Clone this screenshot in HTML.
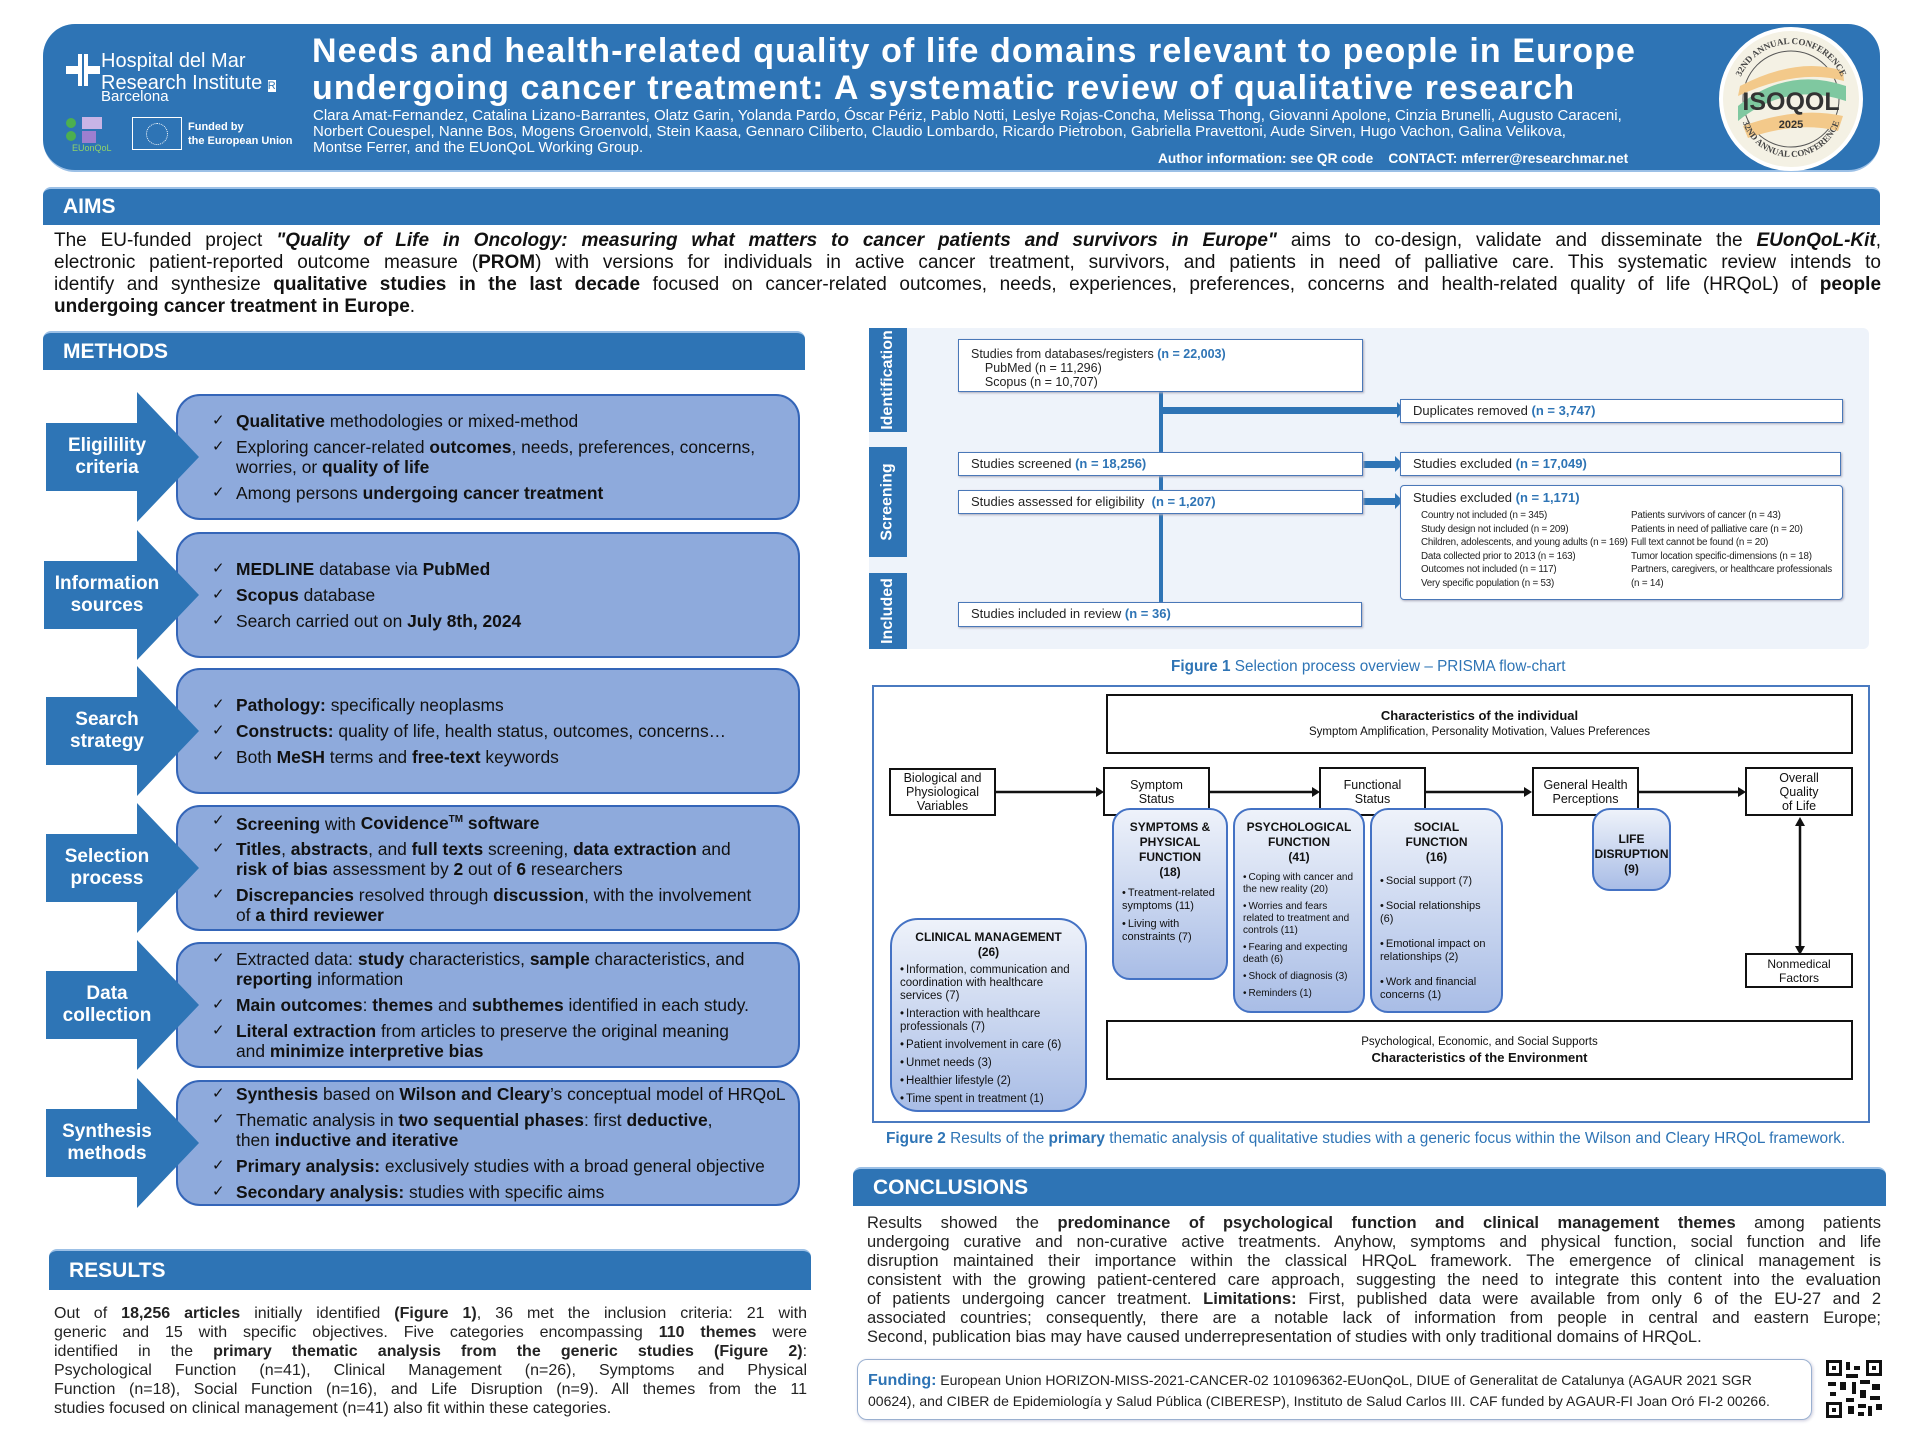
<!DOCTYPE html>
<html><head><meta charset="utf-8">
<style>
*{margin:0;padding:0;box-sizing:border-box}
body{width:1920px;height:1440px;background:#fff;position:relative;overflow:hidden;font-family:"Liberation Sans",Arial,sans-serif;color:#111}
.a{position:absolute}
.bar{position:absolute;background:#2e74b5;border-radius:8px 8px 0 0;color:#fff;font-weight:bold;font-size:21px;padding-left:20px;display:flex;align-items:center;border-top:2px solid #9cc0e6}
.jl{position:absolute;white-space:nowrap;text-align:justify;text-align-last:justify}
.ll{position:absolute;white-space:nowrap}
.row{position:absolute;left:0;width:820px}
.box{position:absolute;left:176px;width:624px;background:#8eaadc;border:2px solid #3465b8;border-radius:24px;display:flex;flex-direction:column;justify-content:center;padding-left:58px;font-size:17.4px;line-height:20px;color:#111}
.box div{position:relative;margin:3px 0;white-space:nowrap}
.box div:before{content:"✓";position:absolute;left:-24px;top:0;font-size:15px}
.lbl{position:absolute;left:40px;width:134px;color:#fff;font-weight:bold;font-size:19px;line-height:22px;text-align:center;display:flex;align-items:center;justify-content:center}
.pb{position:absolute;background:#fff;border:1.5px solid #4a78b8;font-size:13px;padding-left:12px;color:#222;box-shadow:1px 1px 2px #aab}
.n{color:#2e74b5;font-weight:bold}
.tab{position:absolute;left:869px;width:38px;background:#2e74b5;color:#fff;font-weight:bold;font-size:16px;display:flex;align-items:center;justify-content:center}
.tab span{transform:rotate(-90deg);white-space:nowrap;display:block}
.wb{position:absolute;background:#fff;border:2.5px solid #111;font-size:12.5px;text-align:center;display:flex;flex-direction:column;justify-content:center;line-height:14px;color:#111}
.rb{position:absolute;border:2px solid #4472c4;border-radius:18px;background:linear-gradient(#eef2fa,#a9bde6);font-size:11px;line-height:13px;color:#111}
.rb .t{text-align:center;font-weight:bold;font-size:12px;line-height:15px;margin-top:10px}
.rb ul{list-style:none;padding:2px 4px 0 8px}
.rb li{margin-top:5px}
.rb li:before{content:"•";margin-right:2px}
</style></head><body>

<!-- HEADER -->
<div class="a" style="left:43px;top:24px;width:1837px;height:148px;background:#2e74b5;border-radius:32px;border-bottom:2px solid #9cc0e6"></div>
<svg class="a" style="left:66px;top:52px" width="34" height="36"><path d="M14 2v14H2v4h12M20 2v14h12v4H20M20 34V20h10M14 34V20H4" stroke="#fff" stroke-width="4" fill="none"/></svg>
<div class="ll" style="left:101px;top:50px;color:#fff;font-size:20px;line-height:22px">Hospital del Mar<br>Research Institute <span style="font-size:11px;background:#fff;color:#2e74b5">R</span></div>
<div class="ll" style="left:101px;top:88px;color:#fff;font-size:15px">Barcelona</div>
<div class="a" style="left:66px;top:118px;width:10px;height:10px;border-radius:50%;background:#4caf50"></div>
<div class="a" style="left:66px;top:131px;width:10px;height:10px;border-radius:50%;background:#4caf50"></div>
<div class="a" style="left:82px;top:117px;width:20px;height:12px;background:#c8b4e6"></div>
<div class="a" style="left:82px;top:131px;width:14px;height:12px;background:#9d7fd0"></div>
<div class="ll" style="left:72px;top:143px;color:#8fd36a;font-size:9px">EUonQoL</div>
<div class="a" style="left:132px;top:117px;width:50px;height:33px;border:1px solid #fff"></div>
<div class="a" style="left:146px;top:123px;width:22px;height:22px;border:1.5px dotted #fff;border-radius:50%"></div>
<div class="ll" style="left:188px;top:120px;color:#fff;font-size:11px;line-height:14px;font-weight:bold">Funded by<br>the European Union</div>

<div class="ll" style="left:312px;top:33px;color:#fff;font-size:34px;letter-spacing:1.1px;font-weight:bold;line-height:37px">Needs and health-related quality of life domains relevant to people in Europe<br>undergoing cancer treatment: A systematic review of qualitative research</div>
<div class="ll" style="left:313px;top:108px;color:#fff;font-size:15px;line-height:16px">Clara Amat-Fernandez, Catalina Lizano-Barrantes, Olatz Garin, Yolanda Pardo, Óscar Périz, Pablo Notti, Leslye Rojas-Concha, Melissa Thong, Giovanni Apolone, Cinzia Brunelli, Augusto Caraceni,<br>Norbert Couespel, Nanne Bos, Mogens Groenvold, Stein Kaasa, Gennaro Ciliberto, Claudio Lombardo, Ricardo Pietrobon, Gabriella Pravettoni, Aude Sirven, Hugo Vachon, Galina Velikova,<br>Montse Ferrer, and the EUonQoL Working Group.</div>
<div class="ll" style="left:1158px;top:151px;color:#fff;font-size:13.7px;font-weight:bold">Author information: see QR code &nbsp;&nbsp;&nbsp;CONTACT: mferrer@researchmar.net</div>
<svg class="a" style="left:1718px;top:26px" width="146" height="146">
<defs><path id="arc" d="M18 73 A55 55 0 0 1 128 73"/><path id="arc2" d="M22 80 A51 51 0 0 0 124 80"/></defs>
<circle cx="73" cy="73" r="70" fill="#f4f1e4" stroke="#fff" stroke-width="4"/>
<circle cx="73" cy="73" r="48" fill="none" stroke="#555" stroke-width="1"/>
<path d="M20 80 Q70 40 128 60 L128 75 Q70 55 20 95Z" fill="#7fc8a0"/>
<path d="M22 60 Q80 30 125 45 L126 55 Q80 42 20 70Z" fill="#f3c98a"/>
<path d="M25 100 Q80 80 125 90 L120 105 Q80 95 30 112Z" fill="#f3c98a"/>
<text font-family="Liberation Serif" font-size="9" font-weight="bold" fill="#444"><textPath href="#arc" startOffset="50%" text-anchor="middle">32ND ANNUAL CONFERENCE</textPath></text>
<text font-family="Liberation Serif" font-size="9" font-weight="bold" fill="#444"><textPath href="#arc2" startOffset="50%" text-anchor="middle">32ND ANNUAL CONFERENCE</textPath></text>
<text x="73" y="84" text-anchor="middle" font-family="Liberation Sans" font-weight="bold" font-size="25" fill="#333">ISOQOL</text>
<text x="73" y="102" text-anchor="middle" font-family="Liberation Sans" font-weight="bold" font-size="11" fill="#333">2025</text>
</svg>

<!-- AIMS -->
<div class="bar" style="left:43px;top:187px;width:1837px;height:38px">AIMS</div>
<div style="font-size:19px">
<div class="jl" style="left:54px;top:230px;width:1827px">The EU-funded project <b><i>"Quality of Life in Oncology: measuring what matters to cancer patients and survivors in Europe"</i></b> aims to co-design, validate and disseminate the <b><i>EUonQoL-Kit</i></b>,</div>
<div class="jl" style="left:54px;top:252px;width:1827px">electronic patient-reported outcome measure (<b>PROM</b>) with versions for individuals in active cancer treatment, survivors, and patients in need of palliative care. This systematic review intends to</div>
<div class="jl" style="left:54px;top:274px;width:1827px">identify and synthesize <b>qualitative studies in the last decade</b> focused on cancer-related outcomes, needs, experiences, preferences, concerns and health-related quality of life (HRQoL) of <b>people</b></div>
<div class="ll" style="left:54px;top:296px"><b>undergoing cancer treatment in Europe</b>.</div>
</div>

<!-- METHODS -->
<div class="bar" style="left:43px;top:331px;width:762px;height:39px">METHODS</div>

<div class="row" style="top:392px;height:130px">
<div class="box" style="top:2px;height:126px"><div><b>Qualitative</b> methodologies or mixed-method</div><div>Exploring cancer-related <b>outcomes</b>, needs, preferences, concerns,<br>worries, or <b>quality of life</b></div><div>Among persons <b>undergoing cancer treatment</b></div></div>
<svg class="a" style="left:0;top:0" width="200" height="130"><polygon points="46,31 137,31 137,0 199,65 137,130 137,99 46,99" fill="#2e75b6"/></svg>
<div class="lbl" style="top:31px;height:68px">Eligilility<br>criteria</div>
</div>

<div class="row" style="top:530px;height:130px">
<div class="box" style="top:2px;height:126px"><div><b>MEDLINE</b> database via <b>PubMed</b></div><div><b>Scopus</b> database</div><div>Search carried out on <b>July 8th, 2024</b></div></div>
<svg class="a" style="left:0;top:0" width="200" height="130"><polygon points="44,31 137,31 137,0 199,65 137,130 137,99 44,99" fill="#2e75b6"/></svg>
<div class="lbl" style="top:31px;height:68px">Information<br>sources</div>
</div>

<div class="row" style="top:666px;height:130px">
<div class="box" style="top:2px;height:126px"><div><b>Pathology:</b> specifically neoplasms</div><div><b>Constructs:</b> quality of life, health status, outcomes, concerns…</div><div>Both <b>MeSH</b> terms and <b>free-text</b> keywords</div></div>
<svg class="a" style="left:0;top:0" width="200" height="130"><polygon points="46,31 137,31 137,0 199,65 137,130 137,99 46,99" fill="#2e75b6"/></svg>
<div class="lbl" style="top:31px;height:68px">Search<br>strategy</div>
</div>

<div class="row" style="top:803px;height:130px">
<div class="box" style="top:2px;height:126px"><div><b>Screening</b> with <b>Covidence<sup style="font-size:10px">TM</sup> software</b></div><div><b>Titles</b>, <b>abstracts</b>, and <b>full texts</b> screening, <b>data extraction</b> and<br><b>risk of bias</b> assessment by <b>2</b> out of <b>6</b> researchers</div><div><b>Discrepancies</b> resolved through <b>discussion</b>, with the involvement<br>of <b>a third reviewer</b></div></div>
<svg class="a" style="left:0;top:0" width="200" height="130"><polygon points="46,31 137,31 137,0 199,65 137,130 137,99 46,99" fill="#2e75b6"/></svg>
<div class="lbl" style="top:31px;height:68px">Selection<br>process</div>
</div>

<div class="row" style="top:940px;height:130px">
<div class="box" style="top:2px;height:126px"><div>Extracted data: <b>study</b> characteristics, <b>sample</b> characteristics, and<br><b>reporting</b> information</div><div><b>Main outcomes</b>: <b>themes</b> and <b>subthemes</b> identified in each study.</div><div><b>Literal extraction</b> from articles to preserve the original meaning<br>and <b>minimize interpretive bias</b></div></div>
<svg class="a" style="left:0;top:0" width="200" height="130"><polygon points="46,31 137,31 137,0 199,65 137,130 137,99 46,99" fill="#2e75b6"/></svg>
<div class="lbl" style="top:31px;height:68px">Data<br>collection</div>
</div>

<div class="row" style="top:1078px;height:130px">
<div class="box" style="top:2px;height:126px"><div><b>Synthesis</b> based on <b>Wilson and Cleary</b>’s conceptual model of HRQoL</div><div>Thematic analysis in <b>two sequential phases</b>: first <b>deductive</b>,<br>then <b>inductive and iterative</b></div><div><b>Primary analysis:</b> exclusively studies with a broad general objective</div><div><b>Secondary analysis:</b> studies with specific aims</div></div>
<svg class="a" style="left:0;top:0" width="200" height="130"><polygon points="46,31 137,31 137,0 199,65 137,130 137,99 46,99" fill="#2e75b6"/></svg>
<div class="lbl" style="top:31px;height:68px">Synthesis<br>methods</div>
</div>

<!-- RESULTS -->
<div class="bar" style="left:49px;top:1249px;width:762px;height:41px">RESULTS</div>
<div style="font-size:16px;color:#222">
<div class="jl" style="left:54px;top:1305px;width:753px">Out of <b>18,256 articles</b> initially identified <b>(Figure 1)</b>, 36 met the inclusion criteria: 21 with</div>
<div class="jl" style="left:54px;top:1324px;width:753px">generic and 15 with specific objectives. Five categories encompassing <b>110 themes</b> were</div>
<div class="jl" style="left:54px;top:1343px;width:753px">identified in the <b>primary thematic analysis from the generic studies (Figure 2)</b>:</div>
<div class="jl" style="left:54px;top:1362px;width:753px">Psychological Function (n=41), Clinical Management (n=26), Symptoms and Physical</div>
<div class="jl" style="left:54px;top:1381px;width:753px">Function (n=18), Social Function (n=16), and Life Disruption (n=9). All themes from the 11</div>
<div class="ll" style="left:54px;top:1400px">studies focused on clinical management (n=41) also fit within these categories.</div>
</div>

<!-- PRISMA -->
<div class="a" style="left:869px;top:328px;width:1000px;height:321px;background:#eef3fa;border-radius:6px"></div>
<div class="tab" style="top:328px;height:104px"><span>Identification</span></div>
<div class="tab" style="top:447px;height:110px"><span>Screening</span></div>
<div class="tab" style="top:573px;height:76px"><span>Included</span></div>
<svg class="a" style="left:869px;top:328px" width="1000" height="321">
<g fill="#2e74b5" stroke="#2e74b5">
<rect x="290" y="64" width="4" height="212" stroke="none"/>
<rect x="292" y="79" width="236" height="7" stroke="none"/><polygon points="528,74 536,82 528,90" stroke="none"/>
<rect x="494" y="133" width="32" height="7" stroke="none"/><polygon points="526,128 534,136 526,144" stroke="none"/>
<rect x="494" y="170" width="32" height="7" stroke="none"/><polygon points="526,165 534,173 526,181" stroke="none"/>
</g></svg>
<div class="pb" style="left:958px;top:339px;width:405px;height:53px;padding-top:7px;line-height:14px;font-size:12.5px">Studies from databases/registers <span class="n">(n = 22,003)</span><br>&nbsp;&nbsp;&nbsp;&nbsp;PubMed (n = 11,296)<br>&nbsp;&nbsp;&nbsp;&nbsp;Scopus (n = 10,707)</div>
<div class="pb" style="left:1400px;top:399px;width:443px;height:24px;line-height:21px">Duplicates removed <span class="n">(n = 3,747)</span></div>
<div class="pb" style="left:958px;top:452px;width:405px;height:24px;line-height:22px">Studies screened <span class="n">(n = 18,256)</span></div>
<div class="pb" style="left:1400px;top:452px;width:441px;height:24px;line-height:21px">Studies excluded <span class="n">(n = 17,049)</span></div>
<div class="pb" style="left:958px;top:490px;width:405px;height:24px;line-height:22px">Studies assessed for eligibility &nbsp;<span class="n">(n = 1,207)</span></div>
<div class="pb" style="left:1400px;top:485px;width:443px;height:115px;padding-top:4px;border-radius:4px">Studies excluded <span class="n">(n = 1,171)</span>
<div style="position:absolute;left:20px;top:23px;font-size:9.8px;line-height:13.6px;white-space:nowrap;letter-spacing:-0.2px">Country not included (n = 345)<br>Study design not included (n = 209)<br>Children, adolescents, and young adults (n = 169)<br>Data collected prior to 2013 (n = 163)<br>Outcomes not included (n = 117)<br>Very specific population (n = 53)</div>
<div style="position:absolute;left:230px;top:23px;font-size:9.8px;line-height:13.6px;white-space:nowrap;letter-spacing:-0.2px">Patients survivors of cancer (n = 43)<br>Patients in need of palliative care (n = 20)<br>Full text cannot be found (n = 20)<br>Tumor location specific-dimensions (n = 18)<br>Partners, caregivers, or healthcare professionals<br>(n = 14)</div></div>
<div class="pb" style="left:958px;top:602px;width:404px;height:25px;line-height:22px">Studies included in review <span class="n">(n = 36)</span></div>
<div class="ll" style="left:1171px;top:658px;color:#2e74b5;font-size:15.3px"><b>Figure 1</b> Selection process overview – PRISMA flow-chart</div>

<!-- FIGURE 2 -->
<div class="a" style="left:872px;top:685px;width:998px;height:438px;border:2px solid #4a7ac0;background:#fff"></div>
<div class="wb" style="left:1106px;top:694px;width:747px;height:60px"><b style="font-size:13px">Characteristics of the individual</b><span style="font-size:11.5px;margin-top:2px">Symptom Amplification, Personality Motivation, Values Preferences</span></div>
<div class="wb" style="left:1106px;top:1020px;width:747px;height:60px"><span style="font-size:11.5px">Psychological, Economic, and Social Supports</span><b style="font-size:13px;margin-top:2px">Characteristics of the Environment</b></div>
<svg class="a" style="left:872px;top:685px" width="998" height="438">
<g stroke="#111" stroke-width="2.5" fill="#111">
<line x1="124" y1="107" x2="224" y2="107"/><polygon points="224,102 232,107 224,112" stroke="none"/>
<line x1="338" y1="107" x2="440" y2="107"/><polygon points="440,102 448,107 440,112" stroke="none"/>
<line x1="553" y1="107" x2="652" y2="107"/><polygon points="652,102 660,107 652,112" stroke="none"/>
<line x1="766" y1="107" x2="866" y2="107"/><polygon points="866,102 874,107 866,112" stroke="none"/>
<line x1="928" y1="140" x2="928" y2="262"/><polygon points="923,141 928,132 933,141" stroke="none"/><polygon points="923,261 928,270 933,261" stroke="none"/>
</g></svg>
<div class="wb" style="left:889px;top:768px;width:107px;height:48px">Biological and<br>Physiological<br>Variables</div>
<div class="wb" style="left:1103px;top:767px;width:107px;height:49px">Symptom<br>Status</div>
<div class="wb" style="left:1319px;top:767px;width:107px;height:49px">Functional<br>Status</div>
<div class="wb" style="left:1532px;top:767px;width:107px;height:49px">General Health<br>Perceptions</div>
<div class="wb" style="left:1745px;top:767px;width:108px;height:49px">Overall<br>Quality<br>of Life</div>
<div class="wb" style="left:1745px;top:953px;width:108px;height:35px;border-width:2px;font-size:12px">Nonmedical<br>Factors</div>

<div class="rb" style="left:1112px;top:808px;width:116px;height:172px"><div class="t">SYMPTOMS &amp;<br>PHYSICAL<br>FUNCTION<br>(18)</div><ul><li>Treatment-related symptoms (11)</li><li>Living with constraints (7)</li></ul></div>
<div class="rb" style="left:1233px;top:808px;width:132px;height:205px;font-size:10px;line-height:12px"><div class="t">PSYCHOLOGICAL<br>FUNCTION<br>(41)</div><ul><li>Coping with cancer and the new reality (20)</li><li>Worries and fears related to treatment and controls (11)</li><li>Fearing and expecting death (6)</li><li>Shock of diagnosis (3)</li><li>Reminders (1)</li></ul></div>
<div class="rb" style="left:1370px;top:808px;width:133px;height:205px"><div class="t">SOCIAL<br>FUNCTION<br>(16)</div><ul><li style="margin-top:8px">Social support (7)</li><li style="margin-top:12px">Social relationships (6)</li><li style="margin-top:12px">Emotional impact on relationships (2)</li><li style="margin-top:12px">Work and financial concerns (1)</li></ul></div>
<div class="rb" style="left:1592px;top:808px;width:79px;height:83px"><div class="t" style="margin-top:22px">LIFE<br>DISRUPTION<br>(9)</div></div>
<div class="rb" style="left:890px;top:918px;width:197px;height:194px;border-radius:28px;font-size:11.5px"><div class="t">CLINICAL MANAGEMENT<br>(26)</div><ul><li style="margin-top:2px">Information, communication and coordination with healthcare services (7)</li><li>Interaction with healthcare professionals (7)</li><li>Patient involvement in care (6)</li><li>Unmet needs (3)</li><li>Healthier lifestyle (2)</li><li>Time spent in treatment (1)</li></ul></div>
<div class="ll" style="left:886px;top:1130px;color:#2e74b5;font-size:15.4px"><b>Figure 2</b> Results of the <b>primary</b> thematic analysis of qualitative studies with a generic focus within the Wilson and Cleary HRQoL framework.</div>

<!-- CONCLUSIONS -->
<div class="bar" style="left:853px;top:1167px;width:1033px;height:39px">CONCLUSIONS</div>
<div style="font-size:16.5px;color:#222">
<div class="jl" style="left:867px;top:1214px;width:1014px">Results showed the <b>predominance of psychological function and clinical management themes</b> among patients</div>
<div class="jl" style="left:867px;top:1233px;width:1014px">undergoing curative and non-curative active treatments. Anyhow, symptoms and physical function, social function and life</div>
<div class="jl" style="left:867px;top:1252px;width:1014px">disruption maintained their importance within the classical HRQoL framework. The emergence of clinical management is</div>
<div class="jl" style="left:867px;top:1271px;width:1014px">consistent with the growing patient-centered care approach, suggesting the need to integrate this content into the evaluation</div>
<div class="jl" style="left:867px;top:1290px;width:1014px">of patients undergoing cancer treatment. <b>Limitations:</b> First, published data were available from only 6 of the EU-27 and 2</div>
<div class="jl" style="left:867px;top:1309px;width:1014px">associated countries; consequently, there are a notable lack of information from people in central and eastern Europe;</div>
<div class="ll" style="left:867px;top:1328px">Second, publication bias may have caused underrepresentation of studies with only traditional domains of HRQoL.</div>
</div>
<div class="a" style="left:857px;top:1359px;width:955px;height:61px;border:1.5px solid #9ab0d0;border-radius:10px;box-shadow:1px 1px 3px #ccd"></div>
<div class="ll" style="left:868px;top:1370px;font-size:14px;line-height:20px;color:#222"><b style="color:#2e74b5;font-size:16px">Funding:</b> European Union HORIZON-MISS-2021-CANCER-02 101096362-EUonQoL, DIUE of Generalitat de Catalunya (AGAUR 2021 SGR<br>00624), and CIBER de Epidemiología y Salud Pública (CIBERESP), Instituto de Salud Carlos III. CAF funded by AGAUR-FI Joan Oró FI-2 00266.</div>
<svg class="a" style="left:1826px;top:1360px" width="56" height="58">
<g fill="#111"><rect x="0" y="0" width="16" height="16"/><rect x="40" y="0" width="16" height="16"/><rect x="0" y="42" width="16" height="16"/></g>
<g fill="#fff"><rect x="3" y="3" width="10" height="10"/><rect x="43" y="3" width="10" height="10"/><rect x="3" y="45" width="10" height="10"/></g>
<g fill="#111"><rect x="6" y="6" width="4" height="4"/><rect x="46" y="6" width="4" height="4"/><rect x="6" y="48" width="4" height="4"/>
<rect x="20" y="2" width="4" height="8"/><rect x="28" y="6" width="6" height="4"/><rect x="20" y="14" width="12" height="4"/><rect x="2" y="22" width="8" height="4"/><rect x="14" y="22" width="6" height="8"/><rect x="26" y="22" width="4" height="12"/><rect x="34" y="20" width="10" height="4"/><rect x="46" y="24" width="8" height="6"/><rect x="4" y="32" width="6" height="4"/><rect x="34" y="30" width="6" height="8"/><rect x="44" y="36" width="10" height="4"/><rect x="20" y="38" width="8" height="4"/><rect x="22" y="46" width="6" height="8"/><rect x="32" y="44" width="8" height="4"/><rect x="42" y="46" width="4" height="10"/><rect x="50" y="44" width="6" height="6"/><rect x="32" y="52" width="6" height="4"/></g>
</svg>
</body></html>
